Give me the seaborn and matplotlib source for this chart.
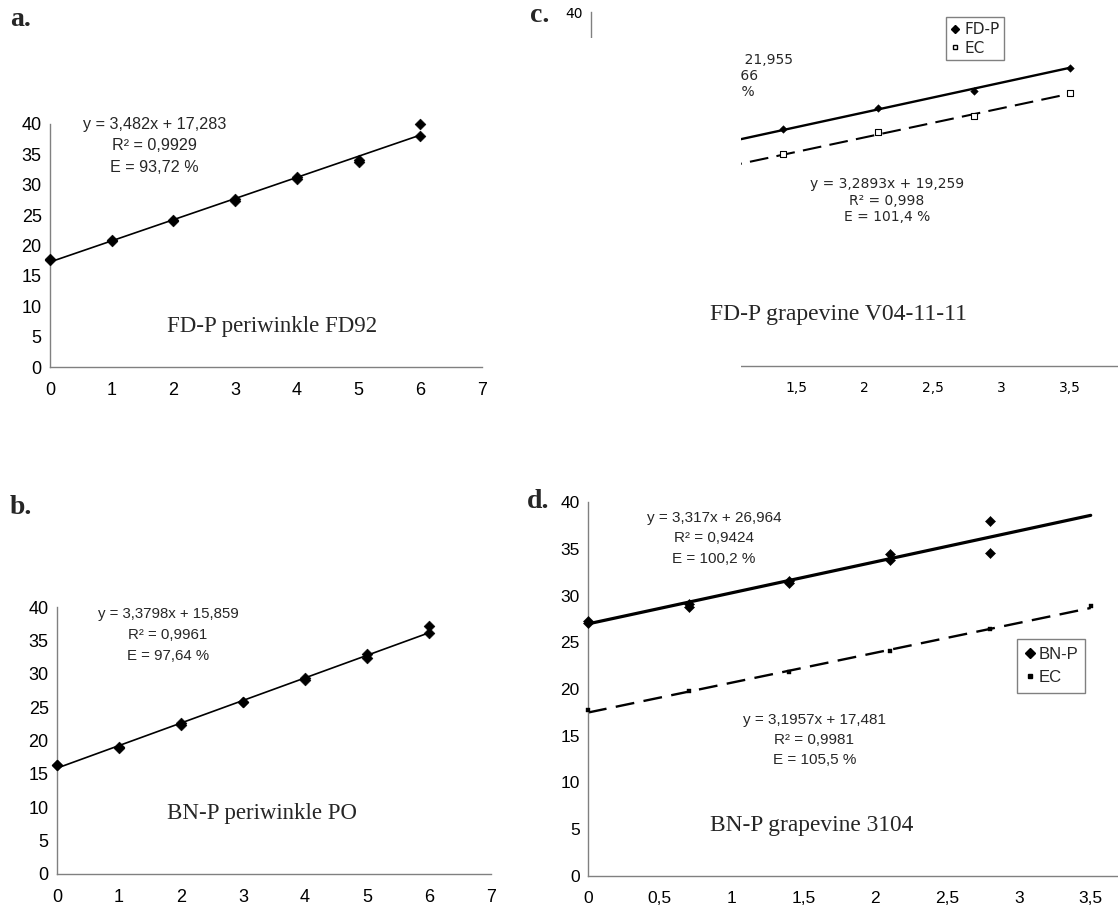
import numpy as np
import pandas as pd
import matplotlib.pyplot as plt
import seaborn as sns
from matplotlib.ticker import FuncFormatter, MultipleLocator
from matplotlib.patches import Rectangle
from matplotlib.lines import Line2D

sns.set_theme(style="white")
plt.rcParams['font.family'] = ['Liberation Sans', 'DejaVu Sans']

# a. FD-P periwinkle FD92 (two replicates per dilution)
a_x = [0, 0, 1, 1, 2, 2, 3, 3, 4, 4, 5, 5, 6, 6]
a_ct = [17.7, 17.6, 20.9, 20.8, 24.1, 24.2, 27.4, 27.6, 31.3, 30.9, 33.8, 34.0, 40.0, 38.0]
a_fit = (3.482, 17.283)

# b. BN-P periwinkle PO
b_x = [0, 0, 1, 1, 2, 2, 3, 3, 4, 4, 5, 5, 6, 6]
b_ct = [16.4, 16.3, 19.0, 18.9, 22.3, 22.6, 25.8, 25.7, 29.0, 29.3, 32.9, 32.4, 37.2, 36.1]
b_fit = (3.3798, 15.859)

# c. FD-P grapevine V04-11-11
c_x = [1.4, 2.1, 2.8, 3.5]
c_fdp = [26.8, 29.2, 31.1, 33.7]
c_ec = [23.9, 26.4, 28.3, 30.8]
c_fdp_fit = (3.3561, 21.955)
c_ec_fit = (3.2893, 19.259)

# d. BN-P grapevine 3104
d_x_bnp = [0, 0, 0.7, 0.7, 1.4, 1.4, 2.1, 2.1, 2.8, 2.8]
d_bnp = [27.3, 27.1, 29.1, 28.8, 31.3, 31.6, 34.4, 33.8, 38.0, 34.5]
d_x_ec = [0, 0.7, 1.4, 2.1, 2.8, 3.5]
d_ec = [17.75, 19.75, 21.8, 24.1, 26.4, 28.9]
d_bnp_fit = (3.317, 26.964)
d_ec_fit = (3.1957, 17.481)

W, H = 1118, 906
fig = plt.figure(figsize=(W / 100, H / 100), dpi=100)


def rect(l, r, t, b):
    return [l / W, 1 - b / H, (r - l) / W, (b - t) / H]


comma = FuncFormatter(lambda v, p: ('%g' % v).replace('.', ','))


def style_axes(ax, xmax, xstep, size, family='Liberation Sans'):
    ax.set_xlim(0, xmax)
    ax.set_ylim(0, 40)
    ax.xaxis.set_major_locator(MultipleLocator(xstep))
    ax.yaxis.set_major_locator(MultipleLocator(5))
    ax.xaxis.set_major_formatter(comma)
    for s in ['top', 'right']:
        ax.spines[s].set_visible(False)
    for s in ['left', 'bottom']:
        ax.spines[s].set_color('#808080')
        ax.spines[s].set_linewidth(1)
    ax.tick_params(direction='out', length=4, width=1, color='#808080',
                   labelsize=size, labelcolor='black', labelfontfamily=family)
    ax.tick_params(axis='x', pad=7)
    ax.tick_params(axis='y', pad=2)
    ax.set_xlabel('')
    ax.set_ylabel('')


def fit_line(ax, fit, x0, x1, **kw):
    xs = np.array([x0, x1])
    sns.lineplot(x=xs, y=fit[0] * xs + fit[1], ax=ax, color='black', **kw)


def points(ax, x, y, **kw):
    sns.scatterplot(x=x, y=y, ax=ax, color='black', edgecolor='black',
                    clip_on=False, zorder=5, **kw)


eq_font = dict(ha='center', va='center', multialignment='center')
title_font = dict(family='Liberation Serif', ha='center', va='center')

# ---- a ----
ax = fig.add_axes(rect(50, 482, 124, 367))
fit_line(ax, a_fit, 0, 6, lw=1.2)
points(ax, a_x, a_ct, marker='D', s=30)
style_axes(ax, 7, 1, 13)
ax.text(1.69, 36.4, 'y = 3,482x + 17,283\nR² = 0,9929\nE = 93,72 %',
        fontsize=11.6, linespacing=1.55, **eq_font)
ax.text(3.6, 6.6, 'FD-P periwinkle FD92', fontsize=16.5, **title_font)

# ---- b ----
ax = fig.add_axes(rect(57, 491, 607, 874))
fit_line(ax, b_fit, 0, 6, lw=1.2)
points(ax, b_x, b_ct, marker='D', s=30)
style_axes(ax, 7, 1, 13)
ax.text(1.79, 35.8, 'y = 3,3798x + 15,859\nR² = 0,9961\nE = 97,64 %',
        fontsize=10.8, linespacing=1.6, **eq_font)
ax.text(3.3, 9.1, 'BN-P periwinkle PO', fontsize=16.5, **title_font)

# ---- c ----
ax_c = ax = fig.add_axes(rect(591, 1118, 12, 366))
fit_line(ax, c_fdp_fit, 0, 3.5, lw=1.7)
fit_line(ax, c_ec_fit, 0, 3.5, lw=1.5, linestyle=(0, (9, 4)))
points(ax, c_x, c_fdp, marker='D', s=15)
sns.scatterplot(x=c_x, y=c_ec, ax=ax, marker='s', s=13, color='white',
                edgecolor='black', linewidth=0.8, zorder=5)
style_axes(ax, 3.85, 0.5, 10, family='DejaVu Sans')
ax.text(0.915, 32.8, 'y = 3,3561x + 21,955\nR² = 0,9966\nE = 98,6 %',
        fontsize=10, family='DejaVu Sans', linespacing=1.2, **eq_font)
ax.text(2.16, 18.7, 'y = 3,2893x + 19,259\nR² = 0,998\nE = 101,4 %',
        fontsize=10, family='DejaVu Sans', linespacing=1.2, **eq_font)
h_c = [Line2D([], [], ls='', marker='D', ms=4, color='black', label='FD-P'),
       Line2D([], [], ls='', marker='s', ms=3.5, mfc='white', mec='black', label='EC')]
leg = ax.legend(handles=h_c, loc='upper left', bbox_to_anchor=(0.673, 0.985),
                prop={'family': 'DejaVu Sans', 'size': 11}, frameon=True,
                fancybox=False, handlelength=0.6, handletextpad=0.3,
                borderpad=0.3, labelspacing=0.25, borderaxespad=0)
leg.get_frame().set_edgecolor('#606060')
leg.get_frame().set_linewidth(1)

# ---- d ----
ax = fig.add_axes(rect(588, 1118, 502, 876))
fit_line(ax, d_bnp_fit, 0, 3.5, lw=2.3)
fit_line(ax, d_ec_fit, 0, 3.5, lw=1.7, linestyle=(0, (8, 4)))
points(ax, d_x_bnp, d_bnp, marker='D', s=26)
points(ax, d_x_ec, d_ec, marker='s', s=12)
style_axes(ax, 3.69, 0.5, 12.5)
ax.text(0.876, 36.1, 'y = 3,317x + 26,964\nR² = 0,9424\nE = 100,2 %',
        fontsize=11, linespacing=1.55, **eq_font)
ax.text(1.575, 14.5, 'y = 3,1957x + 17,481\nR² = 0,9981\nE = 105,5 %',
        fontsize=11, linespacing=1.55, **eq_font)
ax.text(1.56, 5.4, 'BN-P grapevine 3104', fontsize=16.8, **title_font)
h_d = [Line2D([], [], ls='', marker='D', ms=5, color='black', label='BN-P'),
       Line2D([], [], ls='', marker='s', ms=3.5, color='black', label='EC')]
leg = ax.legend(handles=h_d, loc='upper left', bbox_to_anchor=(0.81, 0.633),
                fontsize=12, frameon=True, fancybox=False, handlelength=0.6,
                handletextpad=0.2, borderpad=0.45, labelspacing=0.5, borderaxespad=0)
leg.get_frame().set_edgecolor('#606060')
leg.get_frame().set_linewidth(1)

# the left part of panel c is blanked out in the original figure
fig.add_artist(Rectangle((500 / W, 1 - 400 / H), 241 / W, 362 / H,
                         transform=fig.transFigure, facecolor='white',
                         edgecolor='none', zorder=20))
# the title of panel c stays visible on top of the blank area
fig.text(1.81, 5.8, 'FD-P grapevine V04-11-11', fontsize=17, zorder=30,
         transform=ax_c.transData, **title_font)

# panel letters
lab = dict(family='Liberation Serif', fontsize=20, fontweight='bold', va='center', ha='left')
fig.text(10 / W, 1 - 20 / H, 'a.', **lab)
fig.text(10 / W, 1 - 508 / H, 'b.', **lab)
fig.text(530 / W, 1 - 16 / H, 'c.', **lab)
fig.text(527 / W, 1 - 501 / H, 'd.', **lab)

fig.savefig('out.png', dpi=100, facecolor='white')
